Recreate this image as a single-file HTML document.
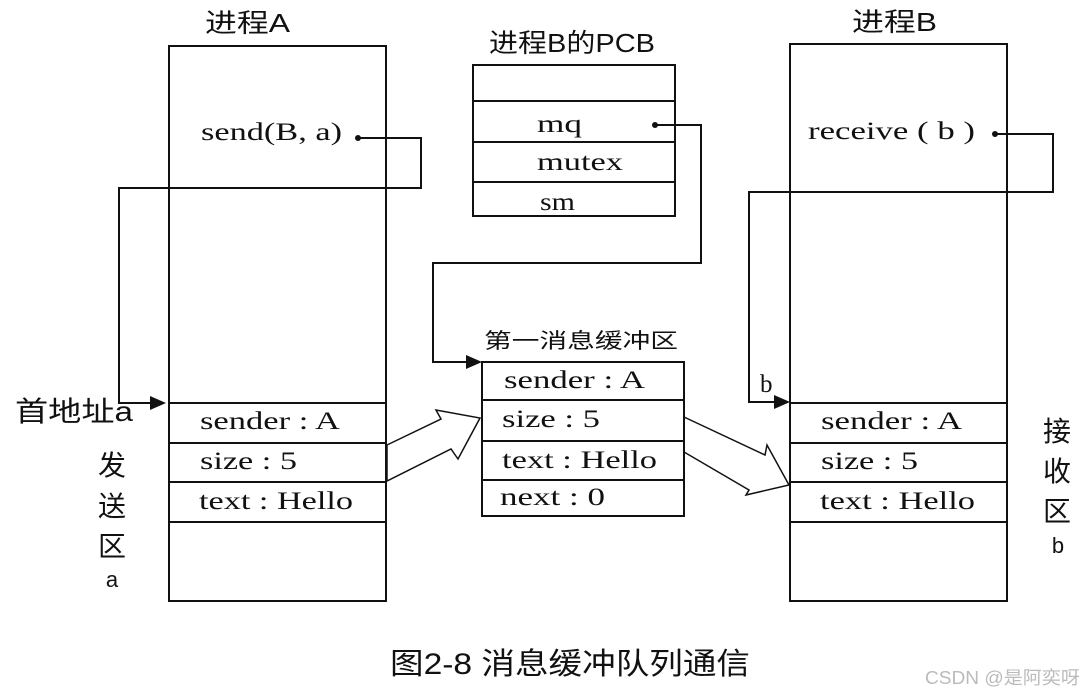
<!DOCTYPE html>
<html><head><meta charset="utf-8"><style>
html,body{margin:0;padding:0;background:#fff;}
svg{display:block;}
.s{font-family:"Liberation Serif","Noto Serif CJK SC",serif;font-size:25px;fill:#111;}
.c{font-family:"Liberation Sans","Noto Sans CJK SC",sans-serif;fill:#111;}
</style></head><body>
<svg width="1087" height="692" viewBox="0 0 1087 692" xmlns="http://www.w3.org/2000/svg">
<g fill="none" stroke="#111" stroke-width="2">
<rect x="169" y="46" width="217" height="555"/>
<line x1="169" y1="403" x2="386" y2="403"/>
<line x1="169" y1="443" x2="386" y2="443"/>
<line x1="169" y1="482" x2="386" y2="482"/>
<line x1="169" y1="522" x2="386" y2="522"/>
<rect x="473" y="65" width="202" height="151"/>
<line x1="473" y1="101" x2="675" y2="101"/>
<line x1="473" y1="142" x2="675" y2="142"/>
<line x1="473" y1="182" x2="675" y2="182"/>
<rect x="482" y="362" width="202" height="154"/>
<line x1="482" y1="400" x2="684" y2="400"/>
<line x1="482" y1="441" x2="684" y2="441"/>
<line x1="482" y1="480" x2="684" y2="480"/>
<rect x="790" y="44" width="217" height="557"/>
<line x1="790" y1="403" x2="1007" y2="403"/>
<line x1="790" y1="443" x2="1007" y2="443"/>
<line x1="790" y1="482" x2="1007" y2="482"/>
<line x1="790" y1="522" x2="1007" y2="522"/>
<polyline points="358,138 421,138 421,188 119,188 119,403 152,403"/>
<polyline points="655,125 701,125 701,263 433,263 433,362 468,362"/>
<polyline points="995,134 1053,134 1053,192 749,192 749,402 776,402"/>
<polygon stroke-width="1.5" points="387,445 441,419 436,410 480,418 458,459 451,449 387,481"/>
<polygon stroke-width="1.5" points="684,417 765,455 767,445 789,485 746,495 749,490 684,452"/>
</g>
<g fill="#111">
<circle cx="358" cy="138" r="3"/>
<circle cx="655" cy="125" r="3"/>
<circle cx="995" cy="134" r="3"/>
<polygon points="150,396 166,403 150,410"/>
<polygon points="466,355 482,362 466,369"/>
<polygon points="774,395 790,402 774,409"/>
</g>
<text class="c" x="205" y="32" font-size="26" textLength="85" lengthAdjust="spacingAndGlyphs">进程A</text>
<text class="c" x="489" y="52" font-size="26" textLength="166" lengthAdjust="spacingAndGlyphs">进程B的PCB</text>
<text class="c" x="852" y="31" font-size="26" textLength="85" lengthAdjust="spacingAndGlyphs">进程B</text>
<text class="s" x="201" y="140" textLength="141" lengthAdjust="spacingAndGlyphs">send(B, a)</text>
<text class="s" x="808" y="139" textLength="167" lengthAdjust="spacingAndGlyphs">receive ( b )</text>
<text class="s" x="537" y="132" textLength="45" lengthAdjust="spacingAndGlyphs">mq</text>
<text class="s" x="537" y="170" textLength="86" lengthAdjust="spacingAndGlyphs">mutex</text>
<text class="s" x="540" y="210" textLength="35" lengthAdjust="spacingAndGlyphs">sm</text>
<text class="c" x="484" y="348" font-size="21" textLength="194" lengthAdjust="spacingAndGlyphs">第一消息缓冲区</text>
<text class="s" x="504" y="388" textLength="141" lengthAdjust="spacingAndGlyphs">sender : A</text>
<text class="s" x="502" y="427" textLength="98" lengthAdjust="spacingAndGlyphs">size : 5</text>
<text class="s" x="502" y="468" textLength="155" lengthAdjust="spacingAndGlyphs">text : Hello</text>
<text class="s" x="500" y="505" textLength="105" lengthAdjust="spacingAndGlyphs">next : 0</text>
<text class="s" x="200" y="429" textLength="140" lengthAdjust="spacingAndGlyphs">sender : A</text>
<text class="s" x="200" y="469" textLength="97" lengthAdjust="spacingAndGlyphs">size : 5</text>
<text class="s" x="199" y="509" textLength="154" lengthAdjust="spacingAndGlyphs">text : Hello</text>
<text class="s" x="821" y="429" textLength="141" lengthAdjust="spacingAndGlyphs">sender : A</text>
<text class="s" x="821" y="469" textLength="97" lengthAdjust="spacingAndGlyphs">size : 5</text>
<text class="s" x="820" y="509" textLength="155" lengthAdjust="spacingAndGlyphs">text : Hello</text>
<text class="c" x="15" y="421" font-size="28" textLength="118" lengthAdjust="spacingAndGlyphs">首地址a</text>
<g class="c" font-size="28" text-anchor="middle">
<text x="112" y="475">发</text><text x="112" y="516">送</text><text x="112" y="556">区</text><text x="112" y="587" font-size="22">a</text>
<text x="1057" y="441">接</text><text x="1057" y="481">收</text><text x="1057" y="521">区</text><text x="1058" y="553" font-size="22">b</text>
</g>
<text class="s" x="760" y="392" font-size="22">b</text>
<text class="c" x="390" y="674" font-size="30" textLength="360" lengthAdjust="spacingAndGlyphs">图2-8 消息缓冲队列通信</text>
<text class="c" x="925" y="684" font-size="18" style="fill:#bbb" textLength="155" lengthAdjust="spacingAndGlyphs">CSDN @是阿奕呀</text>
</svg>
</body></html>
